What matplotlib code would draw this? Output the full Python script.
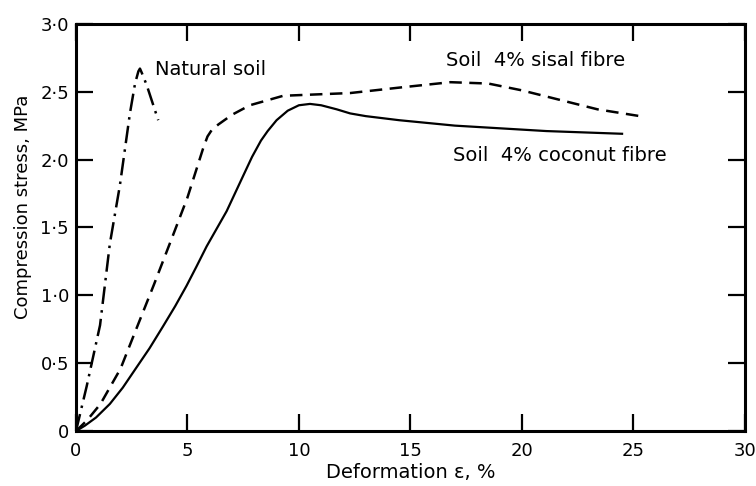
import matplotlib
matplotlib.use("Agg")
import matplotlib.pyplot as plt

# Natural soil (dash-dot)
natural_x = [0, 0.48, 1.08, 1.52, 1.97, 2.42, 2.65, 2.8, 2.87, 2.95, 3.17, 3.69]
natural_y = [0, 0.33, 0.78, 1.38, 1.81, 2.34, 2.56, 2.65, 2.67, 2.64, 2.55, 2.29]

# Soil 4% sisal fibre (dashed)
sisal_x = [0, 0.5, 1.1, 2.0, 2.7, 3.5, 4.3, 5.0, 5.7, 5.9, 6.1, 6.4, 7.0, 7.8,
           9.3, 10.8, 12.3, 14.5, 16.8, 18.5, 20.0, 21.7, 23.4, 25.3]
sisal_y = [0, 0.08, 0.2, 0.46, 0.75, 1.08, 1.42, 1.72, 2.08, 2.17, 2.22, 2.26,
           2.33, 2.40, 2.47, 2.48, 2.49, 2.53, 2.57, 2.56, 2.51, 2.44, 2.37, 2.32]

# Soil 4% coconut fibre (solid)
coconut_x = [0, 0.4, 0.9, 1.52, 2.1, 2.72, 3.3, 3.9, 4.45, 4.96, 5.4, 5.86,
             6.76, 7.5, 7.9, 8.3, 8.6, 9.0, 9.5, 10.0, 10.5, 11.0, 11.7, 12.3,
             13.0, 14.5, 17.0, 21.1, 24.5]
coconut_y = [0, 0.04, 0.10, 0.20, 0.32, 0.47, 0.61, 0.77, 0.92, 1.07, 1.21,
             1.36, 1.62, 1.88, 2.02, 2.14, 2.21, 2.29, 2.36, 2.40, 2.41, 2.40,
             2.37, 2.34, 2.32, 2.29, 2.25, 2.21, 2.19]

xticks = [0, 5, 10, 15, 20, 25, 30]
xticklabels = ["0", "5", "10", "15", "20", "25", "30"]
yticks = [0, 0.5, 1.0, 1.5, 2.0, 2.5, 3.0]
yticklabels = ["0", "0·5", "1·0", "1·5", "2·0", "2·5", "3·0"]

plt.rcParams['font.family'] = ['DejaVu Sans']

fig = plt.figure(figsize=(7.56, 4.86), dpi=100)
ax = fig.add_axes([0.1005, 0.113, 0.8845, 0.838])

ax.plot(natural_x, natural_y, color='black', lw=1.8,
        linestyle=(0, (7, 2.5, 1, 2.5)), solid_joinstyle='round')
ax.plot(sisal_x, sisal_y, color='black', lw=1.8,
        linestyle=(0, (5, 3)), dash_joinstyle='round')
ax.plot(coconut_x, coconut_y, color='black', lw=1.6, linestyle='-',
        solid_joinstyle='round')

ax.set_xlim(0, 30)
ax.set_ylim(0, 3.0)
ax.set_xticks(xticks)
ax.set_xticklabels(xticklabels)
ax.set_yticks(yticks)
ax.set_yticklabels(yticklabels)

ax.tick_params(direction='in', length=12, width=1.6, labelsize=13,
               top=True, right=True, pad=5)
ax.tick_params(axis='x', pad=8)
for s in ax.spines.values():
    s.set_linewidth(2.2)

ax.set_xlabel("Deformation ε, %", fontsize=14, labelpad=2)
ax.set_ylabel("Compression stress, MPa", fontsize=13)
ax.yaxis.set_label_coords(-0.066, 0.55)

ax.text(3.55, 2.66, "Natural soil", fontsize=14, va='center', ha='left')
ax.text(16.6, 2.73, "Soil  4% sisal fibre", fontsize=14, va='center', ha='left')
ax.text(16.9, 2.03, "Soil  4% coconut fibre", fontsize=14, va='center', ha='left')

fig.savefig("out.png", dpi=100)
